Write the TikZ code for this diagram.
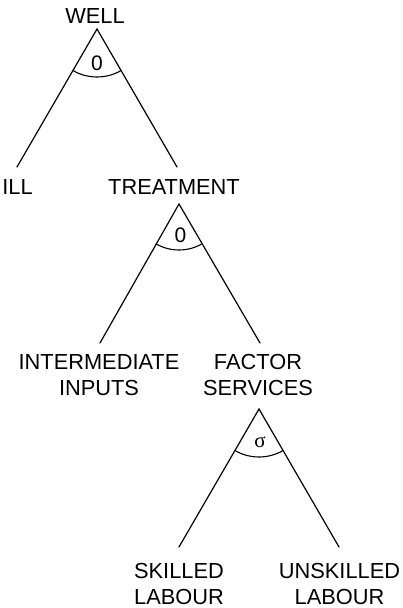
\documentclass[tikz,border=0pt]{standalone}
\usepackage{fontspec}
\setmainfont{Liberation Sans}
\newfontfamily\greekfont{Liberation Serif}
\begin{document}
\begin{tikzpicture}[x=1pt, y=-1pt,
    lbl/.style={font=\fontsize{21.8}{26}\selectfont, inner sep=0pt, anchor=base, align=center},
    elast/.style={font=\fontsize{21}{24}\selectfont, inner sep=0pt, anchor=base},
    leg/.style={line width=1.2pt, line cap=round},
    nest/.style={line width=1.1pt}]
  \useasboundingbox (0,0) rectangle (403,608);

  % upper nest: WELL -> ILL / TREATMENT
  \node[lbl] (well) at (95,23) {WELL};
  \coordinate (apexA) at (97,29);
  \coordinate (legAl) at (17,167);
  \coordinate (legAr) at (177,167);
  \draw[leg] (legAl) -- (apexA) -- (legAr);
  \draw[nest] (apexA) ++(239.9:48pt) arc[start angle=239.9, end angle=300.1, radius=48pt];
  \node[elast] (sigA) at (97,70) {0};
  \node[lbl] (ill) at (17.5,194) {ILL};
  \node[lbl] (treat) at (174,194) {TREATMENT};

  % middle nest: TREATMENT -> INTERMEDIATE INPUTS / FACTOR SERVICES
  % (two-line labels sit on the baseline of their last line)
  \coordinate (apexB) at (179,204);
  \coordinate (legBl) at (100,343);
  \coordinate (legBr) at (260,343);
  \draw[leg] (legBl) -- (apexB) -- (legBr);
  \draw[nest] (apexB) ++(239.9:46pt) arc[start angle=239.9, end angle=300.1, radius=46pt];
  \node[elast] (sigB) at (180.5,242) {0};
  \node[lbl] (inter) at (99,395) {INTERMEDIATE\\INPUTS};
  \node[lbl] (factor) at (258,395) {FACTOR\\SERVICES};

  % lower nest: FACTOR SERVICES -> SKILLED / UNSKILLED LABOUR
  \coordinate (apexC) at (259,409);
  \coordinate (legCl) at (179,547);
  \coordinate (legCr) at (339,547);
  \draw[leg] (legCl) -- (apexC) -- (legCr);
  \draw[nest] (apexC) ++(239.9:48pt) arc[start angle=239.9, end angle=300.1, radius=48pt];
  \node[elast] (sigC) at (260,447) {\greekfont σ};
  \node[lbl] (skilled) at (179,604) {SKILLED\\LABOUR};
  \node[lbl] (unskilled) at (339.5,604) {UNSKILLED\\LABOUR};
\end{tikzpicture}
\end{document}
